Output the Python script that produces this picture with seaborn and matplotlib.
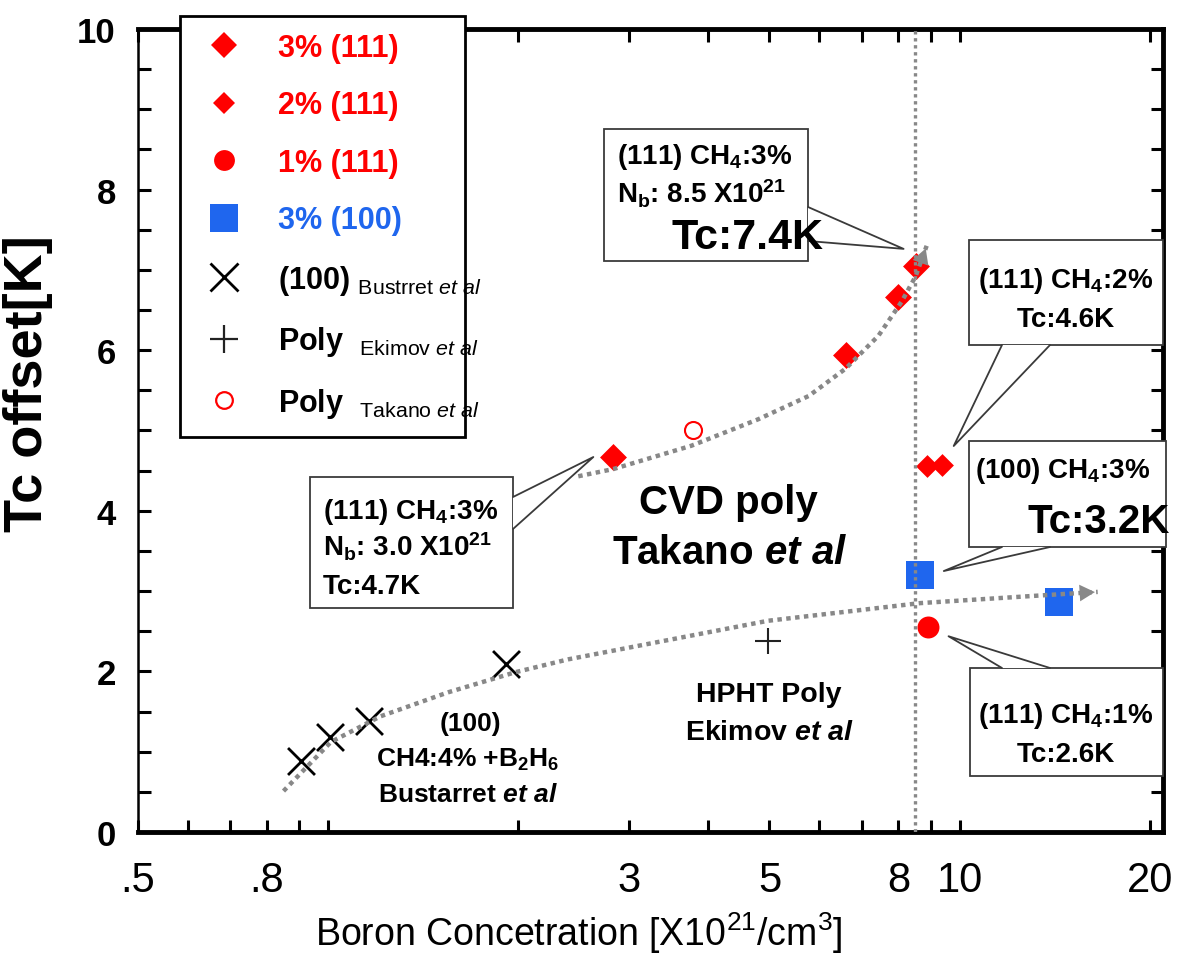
import matplotlib
matplotlib.use('Agg')
import matplotlib.pyplot as plt
import seaborn as sns
from matplotlib import font_manager
from matplotlib.lines import Line2D
from matplotlib.patches import Rectangle, Polygon
from matplotlib.ticker import MultipleLocator, NullFormatter

# ---- data ----
cvd3_x = [2.83, 6.60, 7.98, 8.52]      # 3% (111)
cvd3_y = [4.67, 5.94, 6.66, 7.05]
cvd2_x = [8.87, 9.37]                  # 2% (111)
cvd2_y = [4.56, 4.57]
cvd1_x = [8.93]                        # 1% (111)
cvd1_y = [2.55]
cvd100_x = [8.65, 14.35]               # 3% (100)
cvd100_y = [3.20, 2.86]
bust_x = [0.906, 1.007, 1.16, 1.91]    # (100) Bustarret
bust_y = [0.88, 1.18, 1.38, 2.09]
ekimov_x = [4.97]                      # HPHT poly Ekimov
ekimov_y = [2.38]
takano_x = [3.79]                      # poly Takano
takano_y = [5.00]

upper_trend_x = [2.49, 2.83, 3.76, 4.80, 5.77, 6.60, 7.44, 8.09, 8.52, 8.87]
upper_trend_y = [4.43, 4.52, 4.81, 5.14, 5.43, 5.77, 6.18, 6.60, 6.92, 7.30]
lower_trend_x = [0.85, 1.01, 1.21, 1.55, 1.98, 2.40, 4.97, 8.65, 14.35, 16.55]
lower_trend_y = [0.51, 1.12, 1.44, 1.74, 1.99, 2.15, 2.63, 2.85, 2.96, 2.99]
nb_line = 8.5

x_ticks = [0.5, 0.8, 3, 5, 8, 10, 20]
x_ticklabels = ['.5', '.8', '3', '5', '8', '10', '20']
x_minor = [0.6, 0.7, 0.9, 1, 2, 4, 6, 7, 9]
y_ticks = [0, 2, 4, 6, 8, 10]

legend_labels = ['3% (111)', '2% (111)', '1% (111)', '3% (100)',
                 r'(100) $_{\mathrm{Bustrret}\ \mathit{et\ al}}$',
                 r'Poly  $_{\mathrm{Ekimov}\ \mathit{et\ al}}$',
                 r'Poly  $_{\mathrm{Takano}\ \mathit{et\ al}}$']

RED = '#FF0000'
BLUE = '#1F66EE'
GRAY = '#888888'
EDGE = '#3a3a3a'

sns.set_style('ticks')
names = {f.name for f in font_manager.fontManager.ttflist}
NARROW = 'Liberation Sans Narrow' if 'Liberation Sans Narrow' in names else 'Liberation Sans'
plt.rcParams['font.family'] = ['Liberation Sans', 'DejaVu Sans']
plt.rcParams['mathtext.fontset'] = 'custom'
plt.rcParams['mathtext.rm'] = NARROW
plt.rcParams['mathtext.it'] = NARROW + ':italic'
plt.rcParams['mathtext.bf'] = NARROW + ':bold'
plt.rcParams['mathtext.bfit'] = NARROW + ':italic:bold'
for key in ['text.color', 'axes.labelcolor', 'xtick.color', 'ytick.color']:
    plt.rcParams[key] = 'black'

W, H = 1177, 978
fig = plt.figure(figsize=(W / 100, H / 100), dpi=100)
ax = fig.add_axes([138 / W, 1 - 833 / H, (1163 - 138) / W, (833 - 30) / H])

# markers
sns.scatterplot(x=cvd3_x, y=cvd3_y, marker='D', s=188, color=RED, linewidth=0, ax=ax, zorder=3)
sns.scatterplot(x=cvd2_x, y=cvd2_y, marker='D', s=135, color=RED, linewidth=0, ax=ax, zorder=3)
sns.scatterplot(x=cvd1_x, y=cvd1_y, marker='o', s=250, color=RED, linewidth=0, ax=ax, zorder=3)
sns.scatterplot(x=cvd100_x, y=cvd100_y, marker='s', s=380, color=BLUE, linewidth=0, ax=ax, zorder=3)
sns.scatterplot(x=bust_x, y=bust_y, marker='x', s=376, color='black', linewidth=2, ax=ax, zorder=3)
sns.scatterplot(x=ekimov_x, y=ekimov_y, marker='+', s=376, color='#222222', linewidth=1.5, ax=ax, zorder=3)
sns.scatterplot(x=takano_x, y=takano_y, marker='o', s=150, facecolor='white', edgecolor=RED,
                linewidth=1.5, ax=ax, zorder=3)

# dotted trend lines with arrow heads
for tx, ty in [(upper_trend_x, upper_trend_y), (lower_trend_x, lower_trend_y)]:
    sns.lineplot(x=tx, y=ty, sort=False, estimator=None, color=GRAY, lw=3.2,
                 ls=(0, (1, 1)), ax=ax, zorder=4)
    ax.annotate('', xy=(tx[-1], ty[-1]), xytext=(tx[-2], ty[-2]),
                arrowprops=dict(arrowstyle='-|>,head_length=0.55,head_width=0.3',
                                color=GRAY, lw=0, mutation_scale=20), zorder=4)
ax.axvline(nb_line, color=GRAY, lw=2.4, ls=(0, (1, 1.1)), zorder=4)

# axes
ax.set_xscale('log')
ax.set_xlim(0.5, 21)
ax.set_ylim(0, 10)
ax.set_xticks(x_ticks, labels=x_ticklabels, fontsize=30, family=NARROW)
ax.set_xticks(x_minor, minor=True)
ax.xaxis.set_minor_formatter(NullFormatter())
ax.set_yticks(y_ticks, labels=[str(v) for v in y_ticks], fontsize=25, fontweight='bold')
ax.yaxis.set_minor_locator(MultipleLocator(0.5))
ax.tick_params(which='both', direction='in', top=True, right=True, width=2.2, length=9, color='black')
ax.tick_params(axis='x', which='major', pad=20)
ax.tick_params(axis='y', which='major', pad=16)
for side in ['top', 'right', 'bottom']:
    ax.spines[side].set_linewidth(3.5)
    ax.spines[side].set_color('black')
ax.spines['left'].set_linewidth(1.8)
ax.spines['left'].set_color('black')

ax.set_xlabel(r'Boron Concetration [X10$^{21}$/cm$^{3}$]', fontsize=27, family=NARROW)
ax.xaxis.set_label_coords(0.43, -0.097)
ax.set_ylabel('Tc offset[K]', fontsize=39, fontweight='bold')
ax.yaxis.set_label_coords(-0.083, 0.56)

# legend
handles = [
    Line2D([], [], ls='none', marker='D', ms=13.7, mfc=RED, mec=RED, mew=0),
    Line2D([], [], ls='none', marker='D', ms=11.7, mfc=RED, mec=RED, mew=0),
    Line2D([], [], ls='none', marker='o', ms=15, mfc=RED, mec=RED, mew=0),
    Line2D([], [], ls='none', marker='s', ms=19.5, mfc=BLUE, mec=BLUE, mew=0),
    Line2D([], [], ls='none', marker='x', ms=19.5, color='black', mew=2),
    Line2D([], [], ls='none', marker='+', ms=19.5, color='#222222', mew=1.6),
    Line2D([], [], ls='none', marker='o', ms=12, mfc='white', mec=RED, mew=1.6),
]
lx0 = (180 - 138) / 1025
ly1 = (833 - 17) / 803
leg = ax.legend(handles, legend_labels, loc='upper left',
                bbox_to_anchor=(lx0, ly1 - 0.6, (465 - 180) / 1025, 0.6), mode='expand',
                frameon=True, fancybox=False, framealpha=1, edgecolor='black',
                prop={'weight': 'bold', 'size': 22}, borderpad=0.55, labelspacing=0.9,
                handlelength=1.76, handletextpad=0.9, borderaxespad=0)
leg.get_frame().set_linewidth(2)
for t, c in zip(leg.get_texts(), [RED, RED, RED, BLUE, 'black', 'black', 'black']):
    t.set_color(c)


# ---- callouts (layout in figure pixels) ----
def fp(px, py):
    return (px / W, 1 - py / H)


def tip_at(x, y, dx, dy):
    d = ax.transData.transform((x, y))
    return ((d[0] + dx) / W, (d[1] - dy) / H)


def callout(l, t, r, b, b1, b2, tip):
    fig.add_artist(Rectangle(fp(l, b), (r - l) / W, (b - t) / H, transform=fig.transFigure,
                             fc='white', ec=EDGE, lw=1.3, zorder=6))
    p1, p2 = fp(*b1), fp(*b2)
    fig.add_artist(Polygon([p1, tip, p2], closed=True, transform=fig.transFigure,
                           fc='white', ec='none', zorder=6.1))
    fig.add_artist(Line2D([p1[0], tip[0], p2[0]], [p1[1], tip[1], p2[1]],
                          transform=fig.transFigure, color=EDGE, lw=1.3, zorder=6.2))


def ftext(px, py, s, size=20, ha='center', family=NARROW, **kw):
    fig.text(px / W, 1 - py / H, s, ha=ha, va='center', fontsize=size, family=family,
             fontweight='bold', color='black', zorder=7, **kw)


callout(604, 130, 808, 262, (808, 208), (808, 242), tip_at(cvd3_x[-1], cvd3_y[-1], -12, -17))
ftext(617, 157, r'(111) CH$_\mathbf{4}$:3%', ha='left')
ftext(617, 194, r'N$_\mathbf{b}$: 8.5 X10$^\mathbf{21}$', ha='left')
ftext(747, 238, 'Tc:7.4K', size=31, family='Liberation Sans')

callout(969, 241, 1163, 346, (1002, 346), (1050, 346), tip_at(cvd2_x[-1], cvd2_y[-1], 12, -19))
ftext(1066, 281, r'(111) CH$_\mathbf{4}$:2%')
ftext(1066, 320, 'Tc:4.6K')

callout(969, 442, 1166, 548, (1002, 548), (1050, 548), tip_at(cvd100_x[0], cvd100_y[0], 24, -4))
ftext(975, 471, r'(100) CH$_\mathbf{4}$:3%', ha='left')
ftext(1027, 522, 'Tc:3.2K', size=29, ha='left', family='Liberation Sans')

callout(310, 478, 513, 609, (513, 498), (513, 530), tip_at(cvd3_x[0], cvd3_y[0], -20, 0))
ftext(323, 512, r'(111) CH$_\mathbf{4}$:3%', ha='left')
ftext(323, 547, r'N$_\mathbf{b}$: 3.0 X10$^\mathbf{21}$', ha='left')
ftext(323, 587, 'Tc:4.7K', ha='left')

callout(970, 669, 1163, 777, (1002, 669), (1050, 669), tip_at(cvd1_x[0], cvd1_y[0], 20, 9))
ftext(1066, 716, r'(111) CH$_\mathbf{4}$:1%')
ftext(1066, 755, 'Tc:2.6K')

# free annotations
ftext(728, 503, 'CVD poly', size=29, family='Liberation Sans')
ftext(730, 553, r'Takano $\mathbfit{et\ al}$', size=29, family='Liberation Sans')
ftext(470, 724, '(100)', size=19)
ftext(468, 760, r'CH4:4% +B$_\mathbf{2}$H$_\mathbf{6}$', size=19)
ftext(468, 795, r'Bustarret $\mathbfit{et\ al}$', size=19)
ftext(769, 695, 'HPHT Poly', size=20.5)
ftext(769, 733, r'Ekimov $\mathbfit{et\ al}$', size=20.5)

fig.savefig('out.png', dpi=100)
